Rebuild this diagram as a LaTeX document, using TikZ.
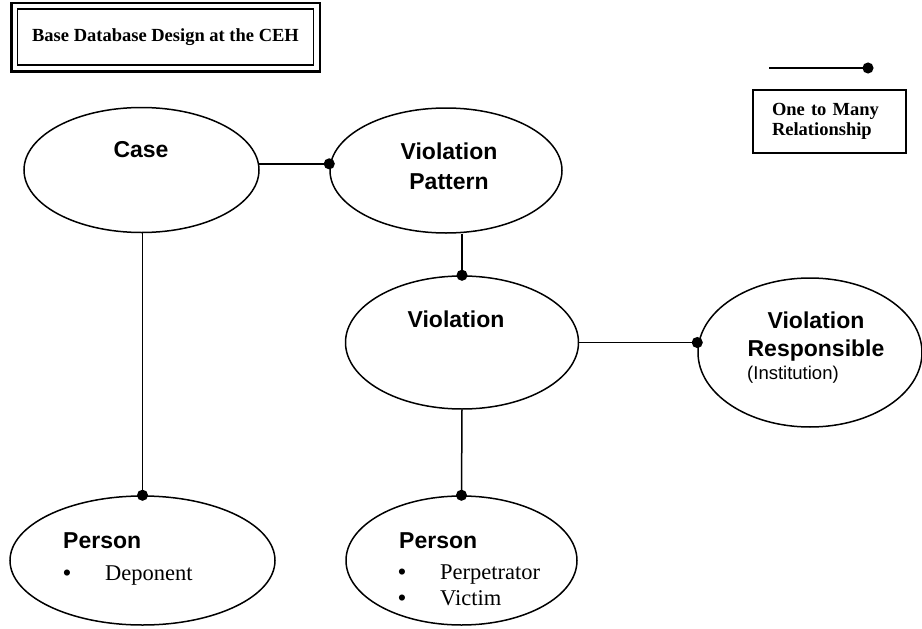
\documentclass[tikz,border=0pt]{standalone}
\usepackage{fontspec}
\setmainfont{Liberation Serif}
\setsansfont{Liberation Sans}
\usetikzlibrary{shapes.geometric,arrows.meta}

\newcommand{\itembullet}{\makebox[42pt][l]{\sffamily\textbullet}}

\tikzset{
  entity/.style={draw, ellipse, line width=1.5pt, inner sep=0pt},
  enttext/.style={font=\fontsize{23}{28}\selectfont\sffamily\bfseries, inner sep=0pt},
  subtext/.style={font=\fontsize{18.5}{22}\selectfont\sffamily, inner sep=0pt},
  itemtext/.style={font=\fontsize{22.5}{26}\selectfont\rmfamily, inner sep=0pt, align=left},
  onemany/.style={line width=1.5pt, -{Circle[length=11pt]}, shorten >=-5.5pt}
}

\begin{document}
\begin{tikzpicture}[x=1pt,y=-1pt]
\useasboundingbox (0,0) rectangle (922,629);
%
\node[draw, line width=1.5pt, minimum width=296pt, minimum height=56pt, inner sep=0pt,
  font=\fontsize{18.5}{22}\selectfont\bfseries] (title) at (165.5,37) {Base Database Design at the CEH};
\draw[line width=2.5pt] ([shift={(-5.5,-5.5)}]title.north west) rectangle ([shift={(5.5,5.5)}]title.south east);
%
\coordinate (lgA) at (769,68);
\coordinate (lgB) at (868,68);
\draw[onemany] (lgA) -- (lgB);
\node[draw, line width=1.5pt, text width=115pt, inner xsep=19pt, minimum height=63pt, align=left,
  font=\fontsize{18.5}{20}\selectfont\bfseries] (legend) at (829.5,121.5) {One to Many\\Relationship};
%
\node[entity, minimum width=235pt, minimum height=125pt] (case) at (141.5,170) {};
\node[entity, minimum width=232pt, minimum height=125pt] (vp) at (446,170.5) {};
\node[entity, minimum width=233pt, minimum height=133pt] (viol) at (462,342.5) {};
\node[entity, minimum width=224pt, minimum height=149pt] (vr) at (810,352.5) {};
\node[entity, minimum width=265pt, minimum height=129pt] (p1) at (142.5,560.5) {};
\node[entity, minimum width=231pt, minimum height=129pt] (p2) at (461.5,560.5) {};
%
\node[enttext, anchor=base] (caselbl) at (141,157) {Case};
\node[enttext, anchor=base] (vplbl1) at (449,159) {Violation};
\node[enttext, anchor=base] (vplbl2) at (449,189) {Pattern};
\node[enttext, anchor=base] (viollbl) at (456,327) {Violation};
\node[enttext, anchor=base] (vrlbl1) at (816,328) {Violation};
\node[enttext, anchor=base] (vrlbl2) at (816,356) {Responsible};
\node[subtext, anchor=base west] (vrlbl3) at (747,379) {(Institution)};
%
\node[enttext, anchor=base west] (p1lbl) at (63,548) {Person};
\node[itemtext, anchor=base west] (p1itm) at (63,580) {\itembullet Deponent};
\node[enttext, anchor=base west] (p2lbl) at (399,548) {Person};
\node[itemtext, anchor=north west] (p2itm) at (398,564.5) {\itembullet Perpetrator\\\itembullet Victim};
%
\draw[onemany] (case.3) -- (case.3 -| vp.west);
\draw[onemany] (vp.south -| viol.north) -- (viol.north);
\draw[onemany] (viol.east) -- (viol.east -| vr.west);
\draw[onemany] (viol.south) -- (p2.north);
\draw[onemany] (p1.north |- case.south) -- (p1.north);
\end{tikzpicture}
\end{document}
